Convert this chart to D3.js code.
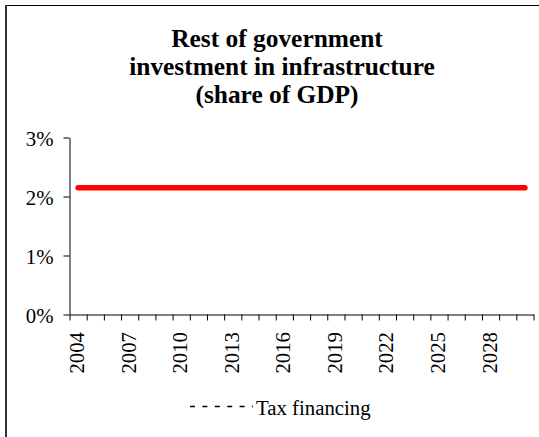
<!DOCTYPE html>
<html>
<head>
<meta charset="utf-8">
<script src="https://cdn.jsdelivr.net/npm/d3@7"></script>
<style>
  html, body { margin: 0; padding: 0; background: #fff; }
  svg { display: block; }
  text { font-family: "Liberation Serif", "Times New Roman", serif; fill: #000; }
</style>
</head>
<body>
<svg id="chart" width="539" height="437"></svg>
<script>
// ---- data ----
const years = d3.range(2004, 2031);            // category labels 2004..2030
const taxFinancing = [2.15, 2.15, 2.15, 2.15, 2.15, 2.15, 2.15, 2.15, 2.15,
                      2.15, 2.15, 2.15, 2.15, 2.15, 2.15, 2.15, 2.15, 2.15,
                      2.15, 2.15, 2.15, 2.15, 2.15, 2.15, 2.15, 2.15, 2.15];
const yTicks = [0, 1, 2, 3];
const labelYears = [2004, 2007, 2010, 2013, 2016, 2019, 2022, 2025, 2028];
const titleLines = ["Rest of government", "investment in infrastructure", "(share of GDP)"];
const seriesName = "Tax financing";

// ---- layout ----
const svg = d3.select("#chart");
const plotL = 69.5, plotR = 533.5, plotT = 137.5, plotB = 314.5;

const x = d3.scaleBand().domain(years).range([plotL, plotR]).padding(0);
const xEdge = d3.scaleLinear().domain([0, years.length]).range([plotL, plotR]);
const y = d3.scaleLinear().domain([0, 3]).range([plotB, plotT]);

// frame
svg.append("line").attr("x1", 5).attr("x2", 539).attr("y1", 5.5).attr("y2", 5.5)
  .attr("stroke", "#000").attr("stroke-width", 1);
svg.append("line").attr("x1", 6).attr("x2", 6).attr("y1", 5).attr("y2", 437)
  .attr("stroke", "#333").attr("stroke-width", 2);

// title
const titleX = [277, 282, 277];
const title = svg.append("text").attr("text-anchor", "middle")
  .style("font-size", "25.4px").style("font-weight", "bold");
titleLines.forEach((t, i) => {
  title.append("tspan").attr("x", titleX[i]).attr("y", 47 + i * 28).text(t);
});

// y axis
const yAxis = svg.append("g").attr("transform", `translate(${plotL},0)`)
  .call(d3.axisLeft(y).tickValues(yTicks).tickFormat(d => d + "%").tickSize(6).tickSizeOuter(0).tickPadding(10));
yAxis.selectAll("text").style("font-size", "20.8px").attr("dy", "0.36em");
yAxis.selectAll("path, line").attr("stroke", "#000");

// x axis (ticks between categories)
const xAxis = svg.append("g").attr("transform", `translate(0,${plotB})`)
  .call(d3.axisBottom(xEdge).tickValues(d3.range(years.length + 1)).tickFormat("").tickSize(6).tickSizeOuter(0));
xAxis.selectAll("path, line").attr("stroke", "#000");

svg.append("g").selectAll("text").data(labelYears).join("text")
  .attr("transform", d => `translate(${x(d) + x.bandwidth() / 2 + 6},332) rotate(-90)`)
  .attr("text-anchor", "end")
  .style("font-size", "20.8px")
  .text(d => d);

// series line
const line = d3.line()
  .x((d, i) => x(years[i]) + x.bandwidth() / 2)
  .y(d => y(d));
svg.append("path").datum(taxFinancing)
  .attr("d", line)
  .attr("fill", "none")
  .attr("stroke", "#ff0000")
  .attr("stroke-width", 5.5)
  .attr("stroke-linecap", "round");

// legend
svg.append("line").attr("x1", 190).attr("x2", 253).attr("y1", 406.5).attr("y2", 406.5)
  .attr("stroke", "#000").attr("stroke-width", 1.5).attr("stroke-dasharray", "5,7.4");
svg.append("text").attr("x", 256).attr("y", 415).style("font-size", "20.8px").text(seriesName);
</script>
</body>
</html>
